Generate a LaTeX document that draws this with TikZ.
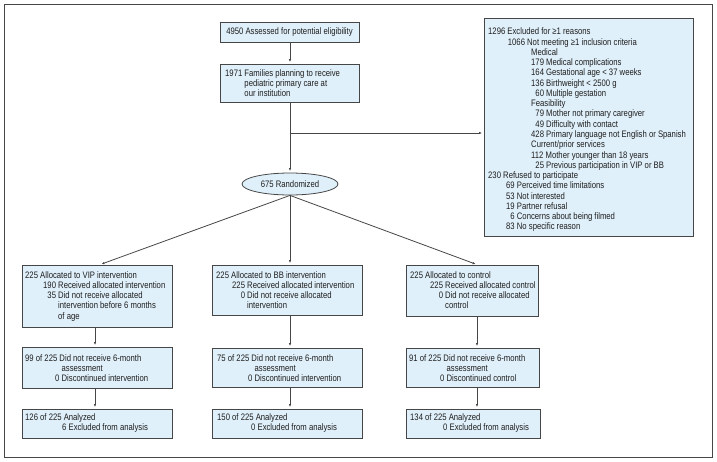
\documentclass[tikz,border=0pt]{standalone}
\usepackage{fontspec}
\setmainfont{Liberation Sans}[FakeStretch=0.82]
\usetikzlibrary{shapes.geometric,fit,arrows.meta}
\definecolor{boxfill}{RGB}{224,240,250}
\definecolor{boxline}{RGB}{70,70,70}
\definecolor{txtc}{RGB}{30,30,30}
\newcommand\ind[1]{\hspace*{#1pt}}
\begin{document}
\begin{tikzpicture}[x=1pt,y=-1pt,
  box/.style={draw=boxline, fill=boxfill, line width=0.8pt, inner sep=0pt},
  txtfont/.style={font=\fontsize{9.4}{10.26}\selectfont, text=txtc},
  txt/.style={txtfont, anchor=north west, inner sep=0pt, align=left},
  conn/.style={draw=boxline, line width=0.8pt, -{Latex[length=3pt,width=2.4pt]}, shorten >=1.5pt}]
\useasboundingbox (0,0) rectangle (717,461);
\node[fit={(4,4) (712,457)}, draw=boxline, line width=0.8pt, inner sep=0pt] (frame) {};

% top boxes
\node[box, txtfont, minimum width=139pt, minimum height=20pt] (b1) at (289.5,32) {4950 Assessed for potential eligibility};
\node[box, fit={(220,64) (359,102)}] (b2) {};
\node[txt] (b2t) at (225,68.8) {\strut 1971 Families planning to receive\\
\phantom{1971 }pediatric primary care at\\
\phantom{1971 }our institution};

\node[box, fit={(484,18) (693,236)}] (ex) {};
\node[txt] (ext) at (488,27.5) {\strut 1296 Excluded for ≥1 reasons\\
\ind{19.7}1066 Not meeting ≥1 inclusion criteria\\
\ind{43}Medical\\
\ind{43}179 Medical complications\\
\ind{43}164 Gestational age < 37 weeks\\
\ind{43}136 Birthweight < 2500 g\\
\ind{43}\phantom{0}60 Multiple gestation\\
\ind{43}Feasibility\\
\ind{43}\phantom{0}79 Mother not primary caregiver\\
\ind{43}\phantom{0}49 Difficulty with contact\\
\ind{43}428 Primary language not English or Spanish\\
\ind{43}Current/prior services\\
\ind{43}112 Mother younger than 18 years\\
\ind{43}\phantom{0}25 Previous participation in VIP or BB\\
230 Refused to participate\\
\ind{18}69 Perceived time limitations\\
\ind{18}53 Not interested\\
\ind{18}19 Partner refusal\\
\ind{18}\phantom{0}6 Concerns about being filmed\\
\ind{18}83 No specific reason};

\node[draw=boxline, fill=boxfill, line width=0.8pt, ellipse, minimum width=96pt, minimum height=22pt, inner sep=0pt, txtfont] (rand) at (290,184) {675 Randomized};

% row 1
\node[box, fit={(22,265) (172,327)}] (L1) {};
\node[txt] (L1t) at (25,270.8) {\strut 225 Allocated to VIP intervention\\
\ind{18}190 Received allocated intervention\\
\ind{18}\phantom{1}35 Did not receive allocated\\
\ind{18}\phantom{190 }intervention before 6 months\\
\ind{18}\phantom{190 }of age};
\node[box, fit={(212,265) (362,315)}] (M1) {};
\node[txt] (M1t) at (216,270.8) {\strut 225 Allocated to BB intervention\\
\ind{16}225 Received allocated intervention\\
\ind{16}\phantom{22}0 Did not receive allocated\\
\ind{16}\phantom{225 }intervention};
\node[box, fit={(406,265) (538,316)}] (R1) {};
\node[txt] (R1t) at (410,270.8) {\strut 225 Allocated to control\\
\ind{20}225 Received allocated control\\
\ind{20}\phantom{22}0 Did not receive allocated\\
\ind{20}\phantom{225 }control};

% row 2
\node[box, fit={(22,347) (172,388)}] (L2) {};
\node[txt] (L2t) at (25,353.8) {\strut 99 of 225 Did not receive 6-month\\
\ind{30}\phantom{0 }assessment\\
\ind{30}0 Discontinued intervention};
\node[box, fit={(212,348) (362,387)}] (M2) {};
\node[txt] (M2t) at (217,353.8) {\strut 75 of 225 Did not receive 6-month\\
\ind{31}\phantom{0 }assessment\\
\ind{31}0 Discontinued intervention};
\node[box, fit={(406,348) (539,387)}] (R2) {};
\node[txt] (R2t) at (409,353.8) {\strut 91 of 225 Did not receive 6-month\\
\ind{31}\phantom{0 }assessment\\
\ind{31}0 Discontinued control};

% row 3
\node[box, fit={(22,409) (172,438)}] (L3) {};
\node[txt] (L3t) at (25,412.8) {\strut 126 of 225 Analyzed\\
\ind{37}6 Excluded from analysis};
\node[box, fit={(212,409) (362,438)}] (M3) {};
\node[txt] (M3t) at (217,412.8) {\strut 150 of 225 Analyzed\\
\ind{34}0 Excluded from analysis};
\node[box, fit={(406,409) (540,438)}] (R3) {};
\node[txt] (R3t) at (410,412.8) {\strut 134 of 225 Analyzed\\
\ind{33}0 Excluded from analysis};

% column coordinates
\coordinate (cT) at (290,0);
\coordinate (cL) at (95,0);
\coordinate (cR) at (477,0);
\coordinate (br) at (290,133);

% connectors
\draw[conn] (b1.south -| cT) -- (b2.north -| cT);
\draw[conn] (b2.south -| cT) -- (rand.north);
\draw[conn] (br) -- (br -| ex.west);
\draw[conn] (rand.south) -- ([xshift=3pt]L1.north);
\draw[conn] (rand.south) -- (M1.north -| cT);
\draw[conn] (rand.south) -- ([xshift=5pt]R1.north);
\draw[conn] (L1.south -| cL) -- (L2.north -| cL);
\draw[conn] (M1.south -| cT) -- (M2.north -| cT);
\draw[conn] (R1.south -| cR) -- (R2.north -| cR);
\draw[conn] (L2.south -| cL) -- (L3.north -| cL);
\draw[conn] (M2.south -| cT) -- (M3.north -| cT);
\draw[conn] (R2.south -| cR) -- (R3.north -| cR);
\end{tikzpicture}
\end{document}
